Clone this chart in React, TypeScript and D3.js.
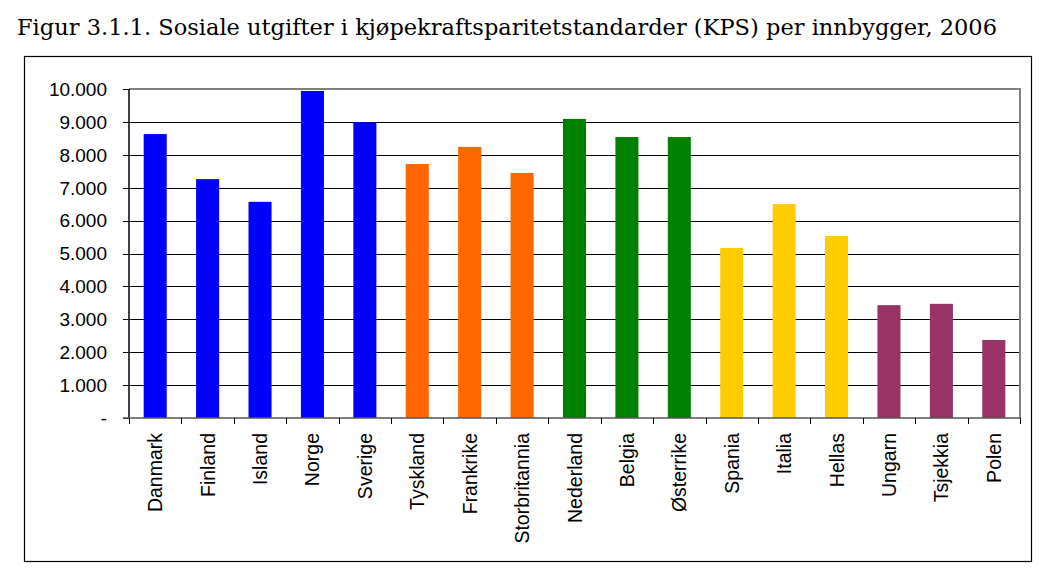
import * as d3 from 'd3';
import { useEffect, useRef } from 'react';

const width = 1041;
const height = 572;

const countries = [
  'Danmark', 'Finland', 'Island', 'Norge', 'Sverige',
  'Tyskland', 'Frankrike', 'Storbritannia',
  'Nederland', 'Belgia', 'Østerrike',
  'Spania', 'Italia', 'Hellas',
  'Ungarn', 'Tsjekkia', 'Polen',
];
const values = [
  8630, 7260, 6570, 9940, 8990,
  7720, 8240, 7450,
  9090, 8540, 8540,
  5170, 6500, 5530,
  3430, 3470, 2370,
];
const groups = [
  'nordic', 'nordic', 'nordic', 'nordic', 'nordic',
  'large', 'large', 'large',
  'central', 'central', 'central',
  'south', 'south', 'south',
  'east', 'east', 'east',
];
const groupNames = ['nordic', 'large', 'central', 'south', 'east'];
const groupColors = ['#0000ff', '#ff6600', '#008000', '#ffcc00', '#993366'];
const yTicks = [0, 1000, 2000, 3000, 4000, 5000, 6000, 7000, 8000, 9000, 10000];
const title = 'Figur 3.1.1. Sosiale utgifter i kjøpekraftsparitetstandarder (KPS) per innbygger, 2006';

const App = () => {
  const svgRef = useRef<SVGSVGElement>(null);

  useEffect(() => {
    const svg = d3.select(svgRef.current);
    svg.selectAll('*').remove();

    const left = 129;
    const right = 1020;
    const top = 89;
    const bottom = 418;

    const x = d3.scaleBand().domain(countries).range([left, right]).paddingInner(0.56).paddingOuter(0.28);
    const y = d3.scaleLinear().domain([0, 10000]).range([bottom, top]);
    const color = d3.scaleOrdinal<string, string>().domain(groupNames).range(groupColors);

    // title
    svg.append('text')
      .attr('x', 17)
      .attr('y', 35)
      .attr('font-family', '"DejaVu Serif", "Liberation Serif", serif')
      .attr('font-size', 22)
      .attr('textLength', 980)
      .attr('lengthAdjust', 'spacingAndGlyphs')
      .attr('fill', '#000')
      .text(title);

    // outer frame
    svg.append('rect')
      .attr('x', 24.5)
      .attr('y', 56.5)
      .attr('width', 1007)
      .attr('height', 505)
      .attr('fill', 'none')
      .attr('stroke', '#000')
      .attr('stroke-width', 1.2);

    // gridlines
    svg.append('g')
      .selectAll('line')
      .data(yTicks.filter((t) => t > 0 && t < 10000))
      .join('line')
      .attr('x1', left)
      .attr('x2', right)
      .attr('y1', (d) => Math.round(y(d)) + 0.5)
      .attr('y2', (d) => Math.round(y(d)) + 0.5)
      .attr('stroke', '#000')
      .attr('stroke-width', 1);

    // plot border (top/right grey)
    svg.append('path')
      .attr('d', `M${left},${top}H${right}V${bottom}`)
      .attr('fill', 'none')
      .attr('stroke', '#808080')
      .attr('stroke-width', 2);

    // bars
    svg.append('g')
      .selectAll('rect')
      .data(countries)
      .join('rect')
      .attr('x', (d) => x(d)!)
      .attr('width', x.bandwidth())
      .attr('y', (d, i) => y(values[i]))
      .attr('height', (d, i) => y(0) - y(values[i]))
      .attr('fill', (d, i) => color(groups[i]));

    // y axis
    const yAxis = svg.append('g');
    yAxis.append('line')
      .attr('x1', left).attr('x2', left)
      .attr('y1', top).attr('y2', bottom)
      .attr('stroke', '#000').attr('stroke-width', 1.5);
    yAxis.selectAll('line.tick')
      .data(yTicks)
      .join('line')
      .attr('class', 'tick')
      .attr('x1', left - 6).attr('x2', left)
      .attr('y1', (d) => Math.round(y(d)) + 0.5)
      .attr('y2', (d) => Math.round(y(d)) + 0.5)
      .attr('stroke', '#000');
    const fmt = d3.formatLocale({ decimal: ',', thousands: '.', grouping: [3], currency: ['', ''] }).format(',');
    yAxis.selectAll('text')
      .data(yTicks)
      .join('text')
      .attr('x', 107)
      .attr('y', (d) => y(d))
      .attr('dy', '0.36em')
      .attr('text-anchor', 'end')
      .attr('font-family', '"Liberation Sans", Arial, sans-serif')
      .attr('font-size', 19)
      .attr('fill', '#000')
      .text((d) => (d === 0 ? '-' : fmt(d)));

    // x axis
    const xAxis = svg.append('g');
    xAxis.append('line')
      .attr('x1', left - 6).attr('x2', right)
      .attr('y1', bottom).attr('y2', bottom)
      .attr('stroke', '#555').attr('stroke-width', 1.5);
    const step = x.step();
    const x0 = x(countries[0])! - step * 0.28;
    xAxis.selectAll('line.tick')
      .data(d3.range(countries.length + 1))
      .join('line')
      .attr('class', 'tick')
      .attr('x1', (i) => Math.round(x0 + i * step) + 0.5)
      .attr('x2', (i) => Math.round(x0 + i * step) + 0.5)
      .attr('y1', bottom)
      .attr('y2', bottom + 6)
      .attr('stroke', '#000');
    xAxis.selectAll('text')
      .data(countries)
      .join('text')
      .attr('transform', (d) => `translate(${x(d)! + x.bandwidth() / 2},433) rotate(-90)`)
      .attr('dy', '0.36em')
      .attr('text-anchor', 'end')
      .attr('font-family', '"Liberation Sans", Arial, sans-serif')
      .attr('font-size', 19.5)
      .attr('fill', '#000')
      .text((d) => d);
  }, []);

  return (
    <svg
      ref={svgRef}
      width={width}
      height={height}
      style={{ position: 'absolute', left: 0, top: 0, background: '#fff' }}
    />
  );
};

export default App;
